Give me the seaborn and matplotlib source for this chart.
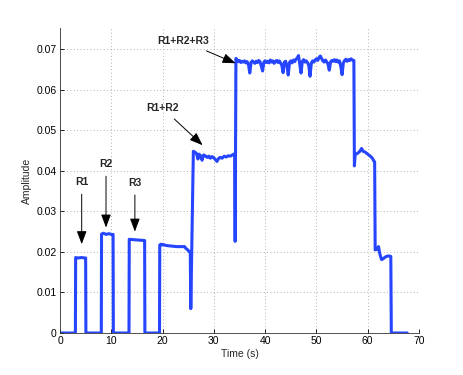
import seaborn as sns
import matplotlib.pyplot as plt
import numpy as np
import pandas as pd

LINE_C = "#2645ff"

# baseline + the three single pulses (R1, R2, R3)
pulse_t = [0.0, 3.0, 3.05, 3.5, 4.2, 4.8, 5.0, 5.05,
           8.05, 8.1, 8.5, 9.0, 9.5, 10.0, 10.35, 10.4,
           13.45, 13.5, 14.5, 15.5, 16.5, 16.55, 19.4]
pulse_a = [0.0, 0.0, 0.0186, 0.0185, 0.0186, 0.0185, 0.0185, 0.0,
           0.0, 0.0244, 0.0246, 0.0243, 0.0245, 0.0243, 0.0243, 0.0,
           0.0, 0.0231, 0.0230, 0.0229, 0.0228, 0.0, 0.0]

# R1+R3 level
r13_t = [19.45, 19.7, 19.9, 20.2, 20.6, 21.2, 22.0, 22.8, 23.6, 24.3,
         24.5, 24.8, 25.2, 25.4, 25.5]
r13_a = [0.0217, 0.0219, 0.0217, 0.0218, 0.0216, 0.0215, 0.0214, 0.0213,
         0.0213, 0.0213, 0.0209, 0.0206, 0.0201, 0.0199, 0.0060]

# R1+R2 plateau
r12_t = [26.0, 26.3, 26.6, 26.9, 27.1, 27.4, 27.7, 28.0, 28.3, 28.7, 29.0,
         29.3, 29.6, 29.9, 30.2, 30.6, 30.9, 31.2, 31.6, 32.0, 32.4, 32.8,
         33.2, 33.6, 34.05, 34.15]
r12_a = [0.0448, 0.0446, 0.0443, 0.0429, 0.0441, 0.0437, 0.0426, 0.0439,
         0.0437, 0.0433, 0.0436, 0.0431, 0.0435, 0.0433, 0.0429, 0.0423,
         0.0430, 0.0433, 0.0431, 0.0436, 0.0434, 0.0437, 0.0436, 0.0439,
         0.0442, 0.0226]

# R1+R2+R3 plateau
r123_t = [34.3, 34.5, 34.75, 35.0, 35.25, 35.5, 35.75, 36.0, 36.25,
          36.5, 36.75, 37.0, 37.25, 37.5, 37.75, 38.0, 38.25,
          38.5, 38.75, 39.0, 39.25, 39.5, 39.75, 40.0, 40.25,
          40.5, 40.75, 41.0, 41.25, 41.5, 41.75, 42.0, 42.25,
          42.5, 42.75, 43.0, 43.25, 43.5, 43.75, 44.0, 44.25,
          44.5, 44.75, 45.0, 45.25, 45.5, 45.75, 46.0, 46.25,
          46.5, 46.75, 47.0, 47.25, 47.5, 47.75, 48.0, 48.25,
          48.5, 48.75, 49.0, 49.25, 49.5, 49.75, 50.0, 50.25,
          50.5, 50.75, 51.0, 51.25, 51.5, 51.75, 52.0, 52.25,
          52.5, 52.75, 53.0, 53.25, 53.5, 53.75, 54.0, 54.25,
          54.5, 54.75, 55.0, 55.25, 55.5, 55.75, 56.0, 56.25,
          56.5, 56.75, 57.0, 57.3]
r123_a = [0.0677,
          0.0674, 0.0669, 0.0672, 0.0667, 0.0670, 0.0668, 0.0671, 0.0666,
          0.0669, 0.0662, 0.0641, 0.0667, 0.0671, 0.0668, 0.0665, 0.0670,
          0.0667, 0.0672, 0.0669, 0.0658, 0.0646, 0.0668, 0.0671, 0.0667,
          0.0670, 0.0666, 0.0673, 0.0668, 0.0671, 0.0665, 0.0669, 0.0672,
          0.0667, 0.0671, 0.0666, 0.0660, 0.0642, 0.0668, 0.0670, 0.0658,
          0.0636, 0.0667, 0.0671, 0.0666, 0.0673, 0.0669, 0.0675, 0.0678,
          0.0684, 0.0662, 0.0641, 0.0670, 0.0674, 0.0668, 0.0671, 0.0667,
          0.0660, 0.0633, 0.0665, 0.0671, 0.0668, 0.0673, 0.0676, 0.0672,
          0.0679, 0.0683, 0.0677, 0.0671, 0.0668, 0.0673, 0.0669, 0.0663,
          0.0648, 0.0668, 0.0672, 0.0670, 0.0674, 0.0669, 0.0673, 0.0668,
          0.0671, 0.0657, 0.0637, 0.0666, 0.0672, 0.0675, 0.0670, 0.0674,
          0.0672, 0.0676, 0.0673, 0.0672]

# falling tail
tail_t = [57.4, 57.55, 58.0, 58.4, 58.8, 59.1, 59.5, 60.0, 60.5, 60.9,
          61.2, 61.35, 61.45, 61.8, 62.1, 62.4, 62.7, 63.0, 63.5, 64.0,
          64.5, 64.6, 67.7]
tail_a = [0.0412, 0.0440, 0.0443, 0.0447, 0.0455, 0.0448, 0.0446, 0.0441,
          0.0436, 0.0431, 0.0424, 0.0422, 0.0205, 0.0206, 0.0213, 0.0193,
          0.0181, 0.0183, 0.0188, 0.0190, 0.0189, 0.0, 0.0]

x_ticks = [0, 10, 20, 30, 40, 50, 60, 70]
y_ticks = [0, 0.01, 0.02, 0.03, 0.04, 0.05, 0.06, 0.07]
y_tick_labels = ["0", "0.01", "0.02", "0.03", "0.04", "0.05", "0.06", "0.07"]

# label, arrow tip (t, amp), text centre (t, amp)
notes = [("R1", (4.23, 0.0219), (4.23, 0.0373)),
         ("R2", (8.97, 0.0260), (8.97, 0.0417)),
         ("R3", (14.6, 0.0250), (14.6, 0.0371)),
         ("R1+R2", (27.8, 0.0463), (19.95, 0.0555)),
         ("R1+R2+R3", (34.25, 0.0665), (24.0, 0.0720))]

sig = pd.DataFrame({
    "t": pulse_t + r13_t + r12_t + r123_t + tail_t,
    "amp": pulse_a + r13_a + r12_a + r123_a + tail_a,
})

sns.set_style("ticks")
plt.rcParams['font.family'] = ['Liberation Sans', 'DejaVu Sans']

f = plt.figure(figsize=(4.63, 3.75), dpi=100)
ax = f.add_axes([0.1296, 0.112, 0.7754, 0.8133])

sns.lineplot(data=sig, x="t", y="amp", estimator=None, sort=False,
             color=LINE_C, lw=2.2, ax=ax)

ax.set_xlim(0, 70)
ax.set_ylim(0, 0.0752)
ax.set_xticks(x_ticks)
ax.set_xticklabels([str(v) for v in x_ticks])
ax.set_yticks(y_ticks)
ax.set_yticklabels(y_tick_labels)
ax.tick_params(direction='in', length=3, width=0.6, labelsize=7.5,
               pad=2.5, colors='black')
ax.grid(True, linestyle=(0, (1, 3)), color='#999999', linewidth=0.6)
ax.set_axisbelow(True)
sns.despine(ax=ax)
for s in ['left', 'bottom']:
    ax.spines[s].set_linewidth(0.6)
    ax.spines[s].set_color('#333333')

ax.set_xlabel("Time (s)", fontsize=7.5, labelpad=2)
ax.set_ylabel("Amplitude", fontsize=7.5, labelpad=3)

for label, tip, txt in notes:
    ax.annotate(label, xy=tip, xytext=txt, ha='center', va='center',
                fontsize=7.5, fontweight='bold',
                arrowprops=dict(arrowstyle='-|>,head_length=0.8,head_width=0.3',
                                color='black', lw=0.7, mutation_scale=10,
                                shrinkA=3, shrinkB=0))

f.savefig("out.png", dpi=100)
